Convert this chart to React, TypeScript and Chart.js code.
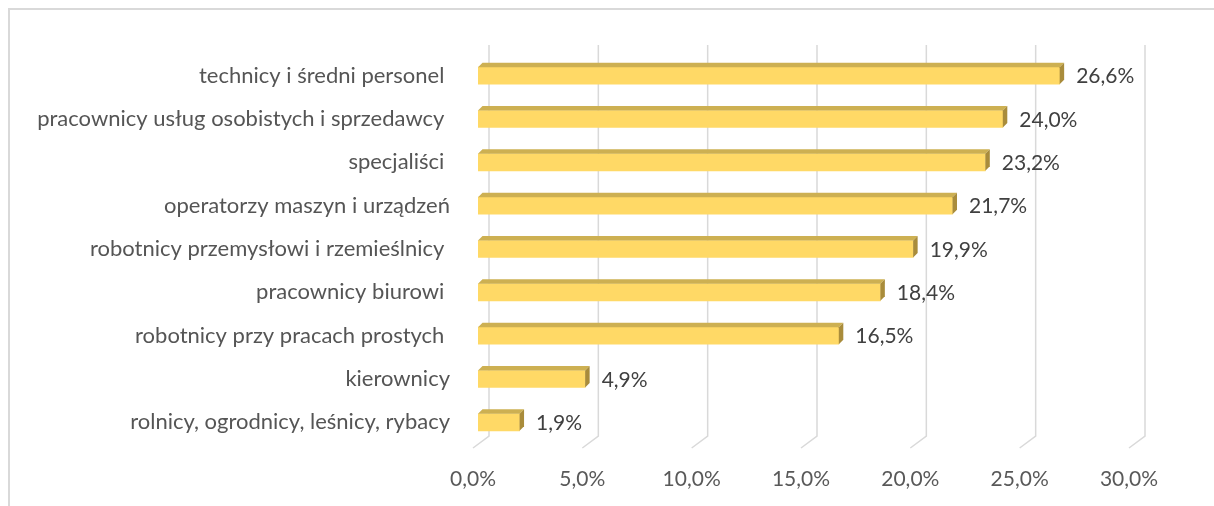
import React, { useEffect, useRef } from "react";
import { Chart, registerables } from "chart.js";

Chart.register(...registerables);

const categories = [
  "technicy i średni personel ",
  "pracownicy usług osobistych i sprzedawcy ",
  "specjaliści ",
  "operatorzy maszyn i urządzeń",
  "robotnicy przemysłowi i rzemieślnicy ",
  "pracownicy biurowi ",
  "robotnicy przy pracach prostych ",
  "kierownicy",
  "rolnicy, ogrodnicy, leśnicy, rybacy",
];
const values = [26.6, 24.0, 23.2, 21.7, 19.9, 18.4, 16.5, 4.9, 1.9];
const xMin = 0;
const xMax = 30;
const xStep = 5;

const FONT = "Lato, 'Open Sans', sans-serif";
const fmt = (v: number) => v.toFixed(1).replace(".", ",") + "%";

const DEPTH = 4.5;
const FRONT = "#FFD966";
const TOP = "#CDB052";
const SIDE = "#A98C3B";

const grid3d = {
  id: "grid3d",
  beforeDatasetsDraw(chart: any) {
    const { ctx, chartArea, scales } = chart;
    const x = scales.x;
    ctx.save();
    ctx.strokeStyle = "#D9D9D9";
    ctx.lineWidth = 1.5;
    const top = chartArea.top - 9;
    const backBottom = chartArea.bottom - 8;
    const frontBottom = chartArea.bottom + 4;
    for (let v = xMin; v <= xMax; v += xStep) {
      const px = x.getPixelForValue(v);
      const bx = px + 11;
      const fx = px - 5;
      ctx.beginPath();
      ctx.moveTo(bx, top);
      ctx.lineTo(bx, backBottom);
      ctx.lineTo(fx, frontBottom);
      ctx.stroke();
    }
    ctx.restore();
  },
  afterDatasetsDraw(chart: any) {
    const { ctx } = chart;
    const meta = chart.getDatasetMeta(0);
    ctx.save();
    meta.data.forEach((bar: any, i: number) => {
      const x0 = bar.base;
      const x1 = bar.x;
      const yT = bar.y - bar.height / 2;
      const yB = bar.y + bar.height / 2;
      ctx.fillStyle = TOP;
      ctx.beginPath();
      ctx.moveTo(x0, yT);
      ctx.lineTo(x0 + DEPTH, yT - DEPTH);
      ctx.lineTo(x1 + DEPTH, yT - DEPTH);
      ctx.lineTo(x1, yT);
      ctx.closePath();
      ctx.fill();
      ctx.fillStyle = SIDE;
      ctx.beginPath();
      ctx.moveTo(x1, yT);
      ctx.lineTo(x1 + DEPTH, yT - DEPTH);
      ctx.lineTo(x1 + DEPTH, yB - DEPTH);
      ctx.lineTo(x1, yB);
      ctx.closePath();
      ctx.fill();
      ctx.fillStyle = "#404040";
      ctx.font = `21px ${FONT}`;
      ctx.textAlign = "left";
      ctx.textBaseline = "middle";
      ctx.fillText(fmt(values[i]), x1 + DEPTH + 12, bar.y + 1);
    });
    ctx.restore();
  },
};

export default function App() {
  const ref = useRef<HTMLCanvasElement | null>(null);
  useEffect(() => {
    if (!ref.current) return;
    const chart = new Chart(ref.current, {
      type: "bar",
      data: {
        labels: categories,
        datasets: [
          {
            data: values,
            backgroundColor: FRONT,
            borderWidth: 0,
            barThickness: 17,
          },
        ],
      },
      options: {
        indexAxis: "y",
        responsive: false,
        animation: false,
        devicePixelRatio: 1,
        layout: { padding: { top: 54, right: 80, bottom: 0, left: 0 } },
        plugins: { legend: { display: false }, tooltip: { enabled: false } },
        scales: {
          x: {
            min: xMin,
            max: xMax,
            grid: { display: false, drawTicks: false },
            border: { display: false },
            ticks: {
              stepSize: xStep,
              color: "#595959",
              font: { family: FONT, size: 21 },
              padding: 23,
              labelOffset: -5,
              maxRotation: 0,
              callback: (v: any) => fmt(Number(v)),
            },
            afterFit: (s: any) => {
              s.height = 62;
            },
          },
          y: {
            grid: { display: false, drawTicks: false },
            border: { display: false },
            ticks: {
              color: "#555555",
              font: { family: FONT, size: 22 },
              padding: 28,
              autoSkip: false,
            },
            afterFit: (s: any) => {
              s.width = 478;
            },
          },
        },
      },
      plugins: [grid3d],
    });
    return () => chart.destroy();
  }, []);

  return (
    <div
      style={{
        position: "fixed",
        left: 0,
        top: 0,
        width: 1214,
        height: 506,
        overflow: "hidden",
        background: "#fff",
      }}
    >
      <div
        style={{
          position: "absolute",
          left: 8,
          top: 8,
          width: 1400,
          height: 700,
          border: "2px solid #D9D9D9",
        }}
      />
      <canvas
        ref={ref}
        width={1214}
        height={506}
        style={{ position: "absolute", left: 0, top: 0, width: 1214, height: 506 }}
      />
    </div>
  );
}
